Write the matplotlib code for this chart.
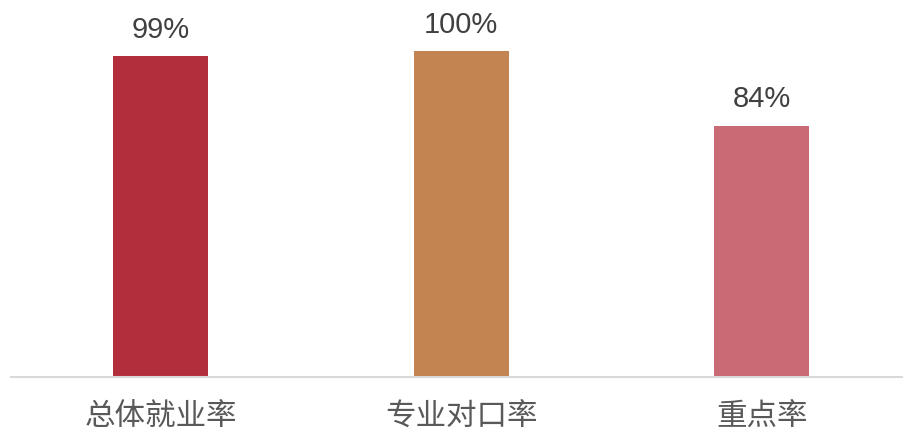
import matplotlib.pyplot as plt

plt.rcParams['font.family'] = ['Liberation Sans', 'Noto Sans CJK SC', 'DejaVu Sans']

categories = ['总体就业率', '专业对口率', '重点率']
values = [99, 100, 84]
labels = ['99%', '100%', '84%']
colors = ['#B22E3C', '#C38452', '#C96A75']

fig = plt.figure(figsize=(9.04, 4.36), dpi=100)
ax = fig.add_axes([11 / 904, 59 / 436, 892 / 904, 326 / 436])

x = list(range(len(categories)))
bars = ax.bar(x, values, width=0.316, color=colors, zorder=2)

for xi, v, lab in zip(x, values, labels):
    ax.annotate(lab, (xi, v), xytext=(0, 13), textcoords='offset points',
                ha='center', va='baseline', fontsize=21, color='#404040',
                annotation_clip=False)

ax.set_ylim(30, 100)
ax.set_xlim(-0.497, 2.47)
ax.set_yticks([])
ax.set_xticks(x)
ax.set_xticklabels(categories, fontsize=22, color='#595959',
                   family=['Noto Sans CJK SC', 'DejaVu Sans'])
ax.tick_params(axis='x', length=0, pad=18)

for side in ['top', 'right', 'left']:
    ax.spines[side].set_visible(False)
ax.spines['bottom'].set_color('#D9D9D9')
ax.spines['bottom'].set_linewidth(1.5)

fig.savefig('out.png', dpi=100)
